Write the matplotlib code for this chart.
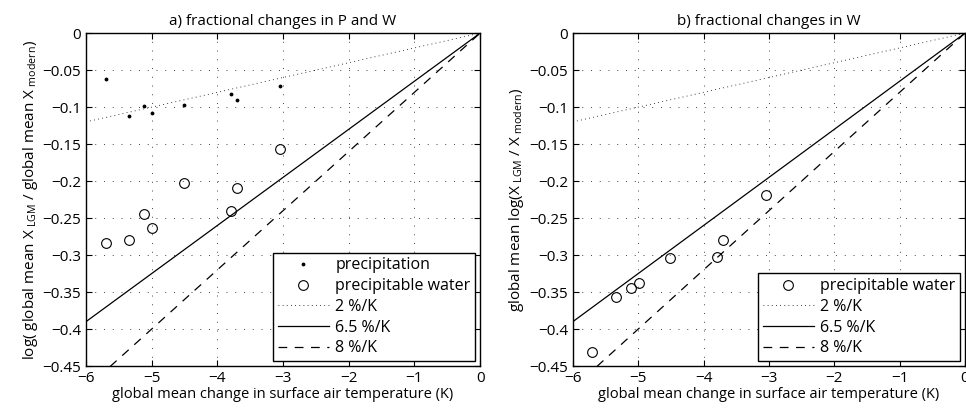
import numpy as np
import matplotlib
matplotlib.use('Agg')
import matplotlib.pyplot as plt

plt.rcParams['font.family'] = ['Open Sans', 'DejaVu Sans']
plt.rcParams['mathtext.fontset'] = 'custom'
plt.rcParams['mathtext.rm'] = 'Open Sans'
plt.rcParams['mathtext.it'] = 'Open Sans'
plt.rcParams['axes.unicode_minus'] = True

# global mean change in surface air temperature (K), one per model
dT = [-5.70, -5.34, -5.11, -4.99, -4.51, -3.79, -3.70, -3.04]
# panel a
precip = [-0.062, -0.112, -0.098, -0.108, -0.097, -0.082, -0.091, -0.071]
pwater_a = [-0.283, -0.280, -0.244, -0.264, -0.203, -0.240, -0.210, -0.157]
# panel b
pwater_b = [-0.431, -0.357, -0.345, -0.338, -0.304, -0.302, -0.279, -0.219]

rates = [0.02, 0.065, 0.08]
rate_labels = ['2 %/K', '6.5 %/K', '8 %/K']
rate_styles = [(0, (1, 4)), '-', (0, (7, 6))]
rate_widths = [0.6, 0.9, 0.9]

xticks = [-6, -5, -4, -3, -2, -1, 0]
yticks = [0, -0.05, -0.1, -0.15, -0.2, -0.25, -0.3, -0.35, -0.4, -0.45]


def fmt(v):
    s = ('%g' % v).replace('-', '\u2212')
    return s


def setup(ax, title, ylabel):
    ax.set_xlim(-6, 0)
    ax.set_ylim(-0.45, 0)
    ax.set_xticks(xticks)
    ax.set_yticks(yticks)
    ax.set_xticklabels([fmt(v) for v in xticks])
    ax.set_yticklabels([fmt(v) for v in yticks])
    ax.tick_params(direction='in', top=True, right=True, labelsize=11, length=4, width=0.8)
    ax.grid(True, linestyle=(0, (1, 8)), color='#444444', linewidth=0.7)
    for sp in ax.spines.values():
        sp.set_linewidth(1.0)
    ax.set_title(title, fontsize=11, pad=6)
    ax.set_xlabel('global mean change in surface air temperature (K)', fontsize=10.5, labelpad=1)
    ax.set_ylabel(ylabel, fontsize=11, labelpad=2)


def rate_lines(ax):
    x = np.array([-6.0, 0.0])
    for r, lab, ls, lw in zip(rates, rate_labels, rate_styles, rate_widths):
        ax.plot(x, r * x, color='k', linestyle=ls, linewidth=lw, label=lab)


fig = plt.figure(figsize=(9.66, 4.09), dpi=100)
ax1 = fig.add_axes([0.089, 0.105, 0.408, 0.814])
ax2 = fig.add_axes([0.593, 0.105, 0.406, 0.814])

# a) precipitation and precipitable water
ax1.plot(dT, precip, linestyle='none', marker='.', color='k', markersize=3.5, label='precipitation')
ax1.plot(dT, pwater_a, linestyle='none', marker='o', markerfacecolor='none',
         markeredgecolor='k', markersize=7, markeredgewidth=0.8, label='precipitable water')
rate_lines(ax1)
setup(ax1, 'a) fractional changes in P and W',
      r'log( global mean X$_{\mathrm{\ LGM}}$ / global mean X$_{\mathrm{\ modern}}$)')

# b) precipitable water only
ax2.plot(dT, pwater_b, linestyle='none', marker='o', markerfacecolor='none',
         markeredgecolor='k', markersize=7, markeredgewidth=0.8, label='precipitable water')
rate_lines(ax2)
setup(ax2, 'b) fractional changes in W',
      r'global mean log(X$_{\mathrm{\ LGM}}$ / X$_{\mathrm{\ modern}}$)')

for ax in (ax1, ax2):
    leg = ax.legend(loc='lower right', fontsize=11.5, fancybox=False, framealpha=1,
                    edgecolor='k', borderaxespad=0.3, handlelength=3.2,
                    handletextpad=0.4, labelspacing=0.3, borderpad=0.3)
    leg.get_frame().set_linewidth(1.0)

fig.savefig('out.png', dpi=100)
